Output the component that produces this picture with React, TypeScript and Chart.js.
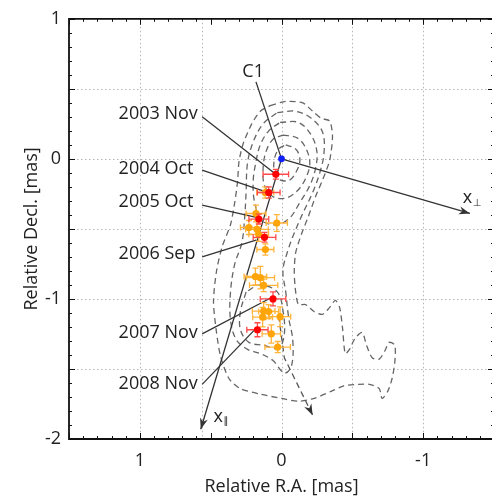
import { useEffect, useRef } from "react";
import { Chart, registerables } from "chart.js";

Chart.register(...registerables);

type XY = [number, number];

// ---------- component positions (mas, relative to the C1 core) ----------
const coreRA = [0];
const coreDec = [0];

// labelled epochs
const epochLabels = ["2003 Nov", "2004 Oct", "2005 Oct", "2006 Sep", "2007 Nov", "2008 Nov"];
const redRA = [0.04, 0.09, 0.16, 0.12, 0.06, 0.17];
const redDec = [-0.11, -0.24, -0.43, -0.56, -1.0, -1.22];
const redErrRA = [0.09, 0.08, 0.07, 0.08, 0.09, 0.075];
const redErrDec = [0.035, 0.04, 0.035, 0.035, 0.05, 0.05];

// remaining epochs
const orangeRA = [0.115, 0.18, 0.033, 0.23, 0.173, 0.161, 0.114, 0.184, 0.149, 0.126, 0.126, 0.091, 0.133, 0.01, 0.072, 0.027];
const orangeDec = [-0.24, -0.39, -0.458, -0.49, -0.503, -0.539, -0.647, -0.84, -0.848, -0.903, -1.087, -1.09, -1.13, -1.127, -1.25, -1.344];
const orangeErrRA = [0.06, 0.07, 0.075, 0.06, 0.08, 0.07, 0.06, 0.08, 0.1, 0.1, 0.08, 0.07, 0.07, 0.075, 0.065, 0.09];
const orangeErrDec = [0.04, 0.06, 0.06, 0.05, 0.06, 0.05, 0.04, 0.06, 0.08, 0.045, 0.06, 0.05, 0.07, 0.07, 0.065, 0.04];

// ---------- intensity contours ----------
const contourOuter: XY[] = [
  [0.08, 0.38], [-0.03, 0.41], [-0.15, 0.4], [-0.22, 0.34], [-0.28, 0.29], [-0.34, 0.27], [-0.36, 0.16],
  [-0.34, -0.01], [-0.29, -0.15], [-0.24, -0.27], [-0.19, -0.41], [-0.14, -0.54], [-0.1, -0.67], [-0.09, -0.81],
  [-0.1, -0.95], [-0.12, -1.04], [-0.17, -1.04], [-0.23, -1.09], [-0.29, -1.11], [-0.34, -1.06], [-0.38, -1.01],
  [-0.41, -1.06], [-0.43, -1.2], [-0.45, -1.39], [-0.48, -1.36], [-0.52, -1.28], [-0.57, -1.24], [-0.6, -1.33],
  [-0.64, -1.42], [-0.69, -1.43], [-0.73, -1.37], [-0.76, -1.31], [-0.8, -1.33], [-0.8, -1.45], [-0.78, -1.57],
  [-0.75, -1.66], [-0.71, -1.71], [-0.69, -1.64], [-0.62, -1.61], [-0.54, -1.61], [-0.44, -1.62], [-0.35, -1.66],
  [-0.23, -1.71], [-0.12, -1.73], [0.0, -1.71], [0.15, -1.68], [0.29, -1.64], [0.37, -1.57], [0.43, -1.41],
  [0.46, -1.23], [0.48, -1.02], [0.46, -0.81], [0.42, -0.63], [0.36, -0.47], [0.33, -0.31], [0.31, -0.16],
  [0.3, -0.02], [0.27, 0.11], [0.21, 0.25], [0.15, 0.34], [0.08, 0.38],
];
const contourJet: XY[] = [
  [0.03, 0.33], [-0.1, 0.34], [-0.21, 0.29], [-0.29, 0.19], [-0.3, 0.04], [-0.27, -0.1], [-0.22, -0.24],
  [-0.15, -0.39], [-0.09, -0.53], [-0.04, -0.67], [-0.01, -0.8], [-0.03, -0.95], [-0.05, -1.13], [-0.08, -1.3],
  [-0.07, -1.48], [-0.02, -1.53], [0.06, -1.44], [0.15, -1.39], [0.24, -1.36], [0.32, -1.29], [0.36, -1.15],
  [0.36, -0.95], [0.33, -0.75], [0.28, -0.6], [0.26, -0.42], [0.25, -0.24], [0.24, -0.03], [0.2, 0.12],
  [0.13, 0.25], [0.03, 0.33],
];
const contourLower: XY[] = [
  [0.25, -0.95], [0.29, -1.09], [0.29, -1.22], [0.23, -1.31], [0.13, -1.33], [0.02, -1.35], [-0.02, -1.25],
  [-0.01, -1.08], [0.03, -0.95], [0.15, -0.9], [0.25, -0.95],
];
const contourMid: XY[] = [
  [0.01, 0.26], [-0.12, 0.26], [-0.21, 0.17], [-0.25, 0.05], [-0.24, -0.07], [-0.2, -0.19], [-0.13, -0.31],
  [-0.06, -0.42], [0.03, -0.47], [0.14, -0.44], [0.19, -0.31], [0.2, -0.16], [0.18, -0.02], [0.15, 0.1],
  [0.09, 0.2], [0.01, 0.26],
];
const contourCore: XY[] = [
  [-0.01, 0.17], [-0.11, 0.15], [-0.17, 0.08], [-0.2, -0.03], [-0.17, -0.14], [-0.11, -0.23], [-0.03, -0.28],
  [0.06, -0.27], [0.12, -0.19], [0.13, -0.07], [0.11, 0.05], [0.06, 0.14], [-0.01, 0.17],
];
const contourPeak: XY[] = [
  [-0.03, 0.1], [-0.1, 0.07], [-0.13, 0.0], [-0.11, -0.08], [-0.06, -0.15], [0.01, -0.15], [0.05, -0.09],
  [0.05, 0.0], [0.02, 0.07], [-0.03, 0.1],
];
const contours = [contourOuter, contourJet, contourLower, contourMid, contourCore, contourPeak];

// ---------- projection axes and motion trend ----------
const axisParallel: XY[] = [[0, 0], [0.57, -1.93]];
const axisPerp: XY[] = [[0, 0], [-1.33, -0.39]];
const motionTrend: XY[] = [[0.02, -1.12], [-0.02, -1.42], [-0.22, -1.83]];

// ---------- annotation placement ----------
const epochLabelRA = 1.15;
const epochLabelDec = [0.32, -0.07, -0.31, -0.68, -1.24, -1.61];
const leaderStartRA = 0.56;
const leaderStartDec = [0.3, -0.08, -0.33, -0.7, -1.25, -1.61];
const leaderEndRA = [0.04, 0.1, 0.17, 0.18, 0.07, 0.18];
const leaderEndDec = [-0.11, -0.24, -0.42, -0.58, -0.99, -1.21];
const coreLabel = "C1";
const coreLabelPos: XY = [0.2, 0.62];
const coreLeader: XY[] = [[0.18, 0.55], [0, 0]];

// ---------- axes ----------
const xTickValues = [1, 0, -1];
const xTickLabels = ["1", "0", "-1"];
const yTickValues = [1, 0, -1, -2];
const yTickLabels = ["1", "0", "-1", "-2"];
const xGridValues = [1, 0.56, 0, -0.5, -1];
const yGridValues = [0.5, 0, -0.5, -1, -1.5];
const xRange: XY = [-1.5, 1.5];
const yRange: XY = [-2, 1];

const FONT = '"Open Sans", "DejaVu Sans", sans-serif';
const FONT_SIZE = 18;
const TEXT = "#222";
const LINE = "#333";

const toXY = (pts: XY[]) => pts.map(([x, y]) => ({ x, y }));
const zipXY = (xs: number[], ys: number[]) => xs.map((x, i) => ({ x, y: ys[i] }));

function arrowHead(ctx: CanvasRenderingContext2D, x0: number, y0: number, x1: number, y1: number, color: string) {
  const a = Math.atan2(y1 - y0, x1 - x0);
  const len = 11;
  const half = 4;
  const c = Math.cos(a);
  const s = Math.sin(a);
  ctx.save();
  ctx.fillStyle = color;
  ctx.beginPath();
  ctx.moveTo(x1, y1);
  ctx.lineTo(x1 - len * c + half * s, y1 - len * s - half * c);
  ctx.lineTo(x1 - len * 0.7 * c, y1 - len * 0.7 * s);
  ctx.lineTo(x1 - len * c - half * s, y1 - len * s + half * c);
  ctx.closePath();
  ctx.fill();
  ctx.restore();
}

const decorations = {
  id: "decorations",
  beforeDatasetsDraw(chart: any) {
    const { ctx, chartArea: a, scales } = chart;
    const sx = scales.x;
    const sy = scales.y;
    ctx.save();
    ctx.strokeStyle = "#b5b5b5";
    ctx.lineWidth = 1;
    ctx.setLineDash([1.5, 2.5]);
    for (const v of xGridValues) {
      const px = Math.round(sx.getPixelForValue(v)) + 0.5;
      ctx.beginPath();
      ctx.moveTo(px, a.top);
      ctx.lineTo(px, a.bottom);
      ctx.stroke();
    }
    for (const v of yGridValues) {
      const py = Math.round(sy.getPixelForValue(v)) + 0.5;
      ctx.beginPath();
      ctx.moveTo(a.left, py);
      ctx.lineTo(a.right, py);
      ctx.stroke();
    }
    ctx.restore();
  },
  beforeDatasetDraw(chart: any, args: any) {
    const ds = chart.data.datasets[args.index];
    if (!ds.errRA) return;
    const { ctx, scales } = chart;
    const sx = scales.x;
    const sy = scales.y;
    ctx.save();
    ctx.strokeStyle = ds.errColor;
    ctx.lineWidth = 1.3;
    const cap = 3;
    ds.data.forEach((p: any, i: number) => {
      const cx = sx.getPixelForValue(p.x);
      const cy = sy.getPixelForValue(p.y);
      const xl = sx.getPixelForValue(p.x + ds.errRA[i]);
      const xr = sx.getPixelForValue(p.x - ds.errRA[i]);
      const yt = sy.getPixelForValue(p.y + ds.errDec[i]);
      const yb = sy.getPixelForValue(p.y - ds.errDec[i]);
      ctx.beginPath();
      ctx.moveTo(xl, cy);
      ctx.lineTo(xr, cy);
      ctx.moveTo(xl, cy - cap);
      ctx.lineTo(xl, cy + cap);
      ctx.moveTo(xr, cy - cap);
      ctx.lineTo(xr, cy + cap);
      ctx.moveTo(cx, yt);
      ctx.lineTo(cx, yb);
      ctx.moveTo(cx - cap, yt);
      ctx.lineTo(cx + cap, yt);
      ctx.moveTo(cx - cap, yb);
      ctx.lineTo(cx + cap, yb);
      ctx.stroke();
    });
    ctx.restore();
  },
  afterDatasetDraw(chart: any, args: any) {
    const ds = chart.data.datasets[args.index];
    if (!ds.arrow) return;
    const pts = args.meta.data;
    const n = pts.length;
    arrowHead(chart.ctx, pts[n - 2].x, pts[n - 2].y, pts[n - 1].x, pts[n - 1].y, ds.arrowColor || LINE);
  },
  afterDatasetsDraw(chart: any) {
    const { ctx, chartArea: a, scales } = chart;
    const sx = scales.x;
    const sy = scales.y;
    ctx.save();

    // frame
    ctx.strokeStyle = "#111";
    ctx.lineWidth = 1.8;
    ctx.setLineDash([]);
    ctx.beginPath();
    ctx.moveTo(a.left, a.top);
    ctx.lineTo(a.right, a.top);
    ctx.lineTo(a.right, a.bottom);
    ctx.lineTo(a.left, a.bottom);
    ctx.closePath();
    ctx.stroke();

    // inward tick marks: majors every 0.5 mas, minors every 0.1 mas
    ctx.lineWidth = 1;
    ctx.beginPath();
    for (let k = Math.round(xRange[0] * 10); k <= Math.round(xRange[1] * 10); k++) {
      const len = k % 5 === 0 ? 6 : 3;
      const px = Math.round(sx.getPixelForValue(k / 10)) + 0.5;
      ctx.moveTo(px, a.top);
      ctx.lineTo(px, a.top + len);
      ctx.moveTo(px, a.bottom);
      ctx.lineTo(px, a.bottom - len);
    }
    for (let k = Math.round(yRange[0] * 10); k <= Math.round(yRange[1] * 10); k++) {
      const len = k % 5 === 0 ? 6 : 3;
      const py = Math.round(sy.getPixelForValue(k / 10)) + 0.5;
      ctx.moveTo(a.left, py);
      ctx.lineTo(a.left + len, py);
      ctx.moveTo(a.right, py);
      ctx.lineTo(a.right - len, py);
    }
    ctx.stroke();

    // annotation text
    ctx.fillStyle = TEXT;
    ctx.font = `${FONT_SIZE}px ${FONT}`;
    ctx.textBaseline = "middle";
    ctx.textAlign = "left";
    epochLabels.forEach((t, i) => {
      ctx.fillText(t, sx.getPixelForValue(epochLabelRA), sy.getPixelForValue(epochLabelDec[i]));
    });
    ctx.textAlign = "center";
    ctx.fillText(coreLabel, sx.getPixelForValue(coreLabelPos[0]), sy.getPixelForValue(coreLabelPos[1]));

    const axisLabel = (sub: string, pos: XY) => {
      const px = sx.getPixelForValue(pos[0]);
      const py = sy.getPixelForValue(pos[1]);
      ctx.textAlign = "left";
      ctx.font = `18px ${FONT}`;
      ctx.fillText("x", px, py);
      const w = ctx.measureText("x").width;
      ctx.font = `10px ${FONT}`;
      ctx.fillText(sub, px + w + 0.5, py + 5);
    };
    axisLabel("\u2225", [0.48, -1.84]);
    axisLabel("\u22A5", [-1.28, -0.28]);
    ctx.restore();
  },
};

export default function App() {
  const ref = useRef<HTMLCanvasElement>(null);

  useEffect(() => {
    if (!ref.current) return;
    const contourSets = contours.map((c, i) => ({
      data: toXY(c),
      showLine: true,
      pointRadius: 0,
      borderColor: "#666",
      borderWidth: 1.3,
      borderDash: [6, 4],
      tension: i === 0 ? 0.25 : 0.35,
      fill: false,
      order: 6,
    }));
    const solid = (pts: XY[], arrow = false) => ({
      data: toXY(pts),
      showLine: true,
      pointRadius: 0,
      borderColor: LINE,
      borderWidth: 1.3,
      tension: 0,
      fill: false,
      arrow,
      order: 4,
    });
    const leaders = epochLabels.map((_, i) =>
      solid([
        [leaderStartRA, leaderStartDec[i]],
        [leaderEndRA[i], leaderEndDec[i]],
      ])
    );

    const chart = new Chart(ref.current, {
      type: "scatter",
      data: {
        datasets: [
          ...contourSets,
          {
            data: toXY(motionTrend),
            showLine: true,
            pointRadius: 0,
            borderColor: "#555",
            borderWidth: 1.3,
            borderDash: [6, 4],
            tension: 0,
            arrow: true,
            arrowColor: "#333",
            order: 5,
          },
          solid(axisParallel, true),
          solid(axisPerp, true),
          solid(coreLeader),
          ...leaders,
          {
            data: zipXY(orangeRA, orangeDec),
            errRA: orangeErrRA,
            errDec: orangeErrDec,
            errColor: "#ffb43c",
            pointRadius: 3.6,
            pointBackgroundColor: "#ffa50a",
            pointBorderWidth: 0,
            order: 3,
          },
          {
            data: zipXY(redRA, redDec),
            errRA: redErrRA,
            errDec: redErrDec,
            errColor: "#ff4a4a",
            pointRadius: 3.6,
            pointBackgroundColor: "#ff0000",
            pointBorderWidth: 0,
            order: 2,
          },
          {
            data: zipXY(coreRA, coreDec),
            pointRadius: 3.4,
            pointBackgroundColor: "#1020ff",
            pointBorderWidth: 0,
            order: 1,
          },
        ] as any,
      },
      options: {
        animation: false,
        responsive: false,
        devicePixelRatio: 1,
        layout: { padding: { top: 14, right: 1, left: 0, bottom: 0 } },
        plugins: { legend: { display: false }, tooltip: { enabled: false } },
        scales: {
          x: {
            type: "linear",
            min: xRange[0],
            max: xRange[1],
            reverse: true,
            afterFit: (s: any) => {
              s.height = 59;
            },
            afterBuildTicks: (s: any) => {
              s.ticks = xTickValues.map((value) => ({ value }));
            },
            grid: { display: false, drawTicks: false },
            border: { display: false },
            ticks: {
              autoSkip: false,
              maxRotation: 0,
              padding: 11,
              color: TEXT,
              font: { family: FONT, size: FONT_SIZE },
              callback: (_v: any, i: number) => xTickLabels[i],
            },
            title: {
              display: true,
              text: "Relative R.A. [mas]",
              color: TEXT,
              font: { family: FONT, size: FONT_SIZE },
              padding: { top: 0, bottom: 0 },
            },
          },
          y: {
            type: "linear",
            min: yRange[0],
            max: yRange[1],
            afterFit: (s: any) => {
              s.width = 69;
            },
            afterBuildTicks: (s: any) => {
              s.ticks = yTickValues.map((value) => ({ value }));
            },
            grid: { display: false, drawTicks: false },
            border: { display: false },
            ticks: {
              autoSkip: false,
              padding: 8,
              color: TEXT,
              font: { family: FONT, size: FONT_SIZE },
              callback: (_v: any, i: number) => yTickLabels[i],
            },
            title: {
              display: true,
              text: "Relative Decl. [mas]",
              color: TEXT,
              font: { family: FONT, size: FONT_SIZE },
              padding: { top: 21, bottom: 0 },
            },
          },
        },
      } as any,
      plugins: [decorations],
    });
    return () => chart.destroy();
  }, []);

  return (
    <div
      style={{
        position: "fixed",
        left: 0,
        top: 0,
        width: 492,
        height: 498,
        overflow: "hidden",
        background: "#fff",
      }}
    >
      <canvas ref={ref} width={498} height={498} style={{ display: "block", width: 498, height: 498 }} />
    </div>
  );
}
